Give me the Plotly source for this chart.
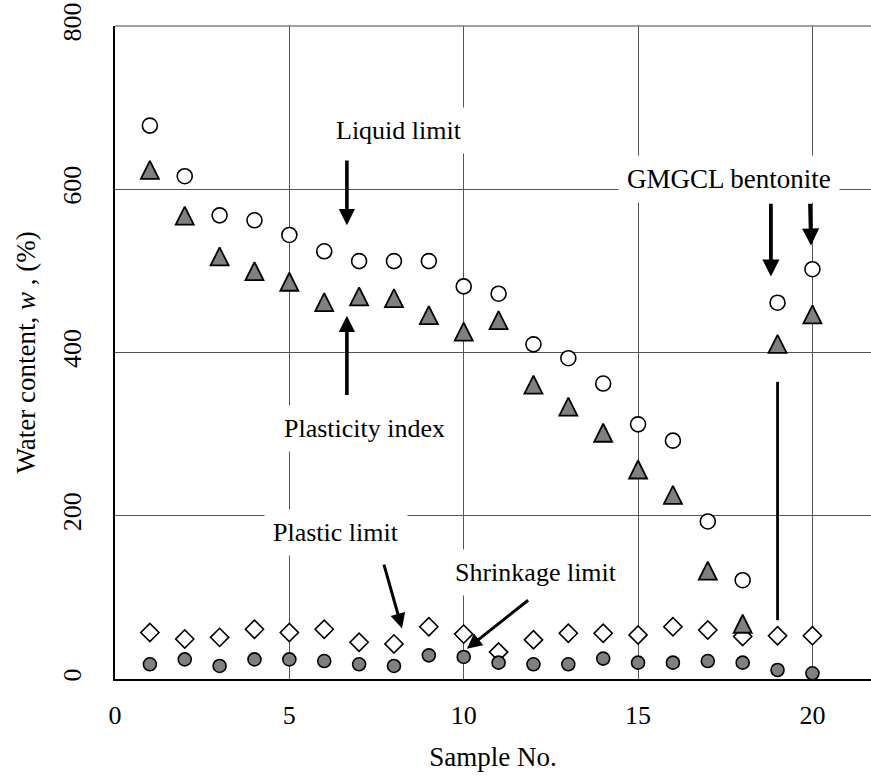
import plotly.graph_objects as go

# Sample numbers and Atterberg-limit water contents (%)
sample_no = [1, 2, 3, 4, 5, 6, 7, 8, 9, 10, 11, 12, 13, 14, 15, 16, 17, 18, 19, 20]
liquid_limit = [678, 616, 568, 562, 544, 524, 512, 512, 512, 481,
                472, 410, 393, 362, 312, 292, 193, 121, 461, 502]
plasticity_index = [620, 564, 514, 496, 483, 458, 465, 463, 442, 422,
                    436, 357, 330, 298, 253, 222, 129, 64, 407, 443]
plastic_limit = [57, 49, 51, 61, 57, 61, 45, 43, 64, 55,
                 33, 48, 56, 56, 54, 64, 60, 52, 53, 53]
shrinkage_limit = [18, 24, 16, 24, 24, 22, 18, 16, 29, 27,
                   20, 18, 18, 25, 20, 20, 22, 20, 11, 7]

x_ticks = [0, 5, 10, 15, 20]
y_ticks = [0, 200, 400, 600, 800]

FONT = "'Liberation Serif', 'Times New Roman', 'DejaVu Serif', serif"
W, H = 871, 778
M_L, M_R, M_T, M_B = 115, 0, 26, 99
Y_MAX = 800
X_MAX = 21.68

# the triangle marker is drawn with its apex on the point; a second y axis
# shifted by two thirds of the marker height puts the triangle's centre there
TRI_SIZE = 18
px_per_unit = (H - M_T - M_B) / Y_MAX
tri_shift = (2 / 3) * TRI_SIZE / px_per_unit

fig = go.Figure()

fig.add_trace(go.Scatter(
    x=sample_no, y=liquid_limit, mode="markers", name="Liquid limit",
    marker=dict(symbol="circle", size=15, color="white",
                line=dict(color="black", width=1.6)),
))
fig.add_trace(go.Scatter(
    x=sample_no, y=plastic_limit, mode="markers", name="Plastic limit",
    marker=dict(symbol="diamond", size=14, color="white",
                line=dict(color="black", width=1.6)),
))
fig.add_trace(go.Scatter(
    x=sample_no, y=plasticity_index, mode="markers", name="Plasticity index",
    yaxis="y2",
    marker=dict(symbol="arrow-up", size=TRI_SIZE, color="#808080",
                line=dict(color="black", width=1.8)),
))
fig.add_trace(go.Scatter(
    x=sample_no, y=shrinkage_limit, mode="markers", name="Shrinkage limit",
    marker=dict(symbol="circle", size=13, color="#808080",
                line=dict(color="black", width=1.6)),
))

# text labels on white boxes (they interrupt the grid lines)
labels = [
    ("Liquid limit", 8.15, 672, 26),
    ("Plasticity index", 7.16, 307, 26),
    ("Plastic limit", 6.34, 180, 26),
    ("Shrinkage limit", 12.08, 130, 26),
    ("GMGCL bentonite", 17.62, 612, 27),
]
annotations = []
for txt, lx, ly, fs in labels:
    annotations.append(dict(
        x=lx, y=ly, xref="x", yref="y", text=txt, showarrow=False,
        font=dict(family=FONT, size=fs, color="black"),
        bgcolor="white", borderpad=8,
    ))

# pointer arrows: (tail x, tail y, tip x, tip y, line width, head size)
arrows = [
    (6.65, 637, 6.65, 556, 3.6, 0.9),
    (6.65, 346, 6.65, 445, 3.6, 0.9),
    (7.70, 142, 8.23, 62, 3.0, 1.0),
    (11.89, 98, 10.09, 37, 3.0, 1.0),
    (18.81, 584, 18.81, 493, 3.8, 0.9),
    (19.93, 584, 19.96, 531, 3.8, 0.9),
]
for tx, ty, hx, hy, aw, asz in arrows:
    annotations.append(dict(
        x=hx, y=hy, ax=tx, ay=ty, xref="x", yref="y", axref="x", ayref="y",
        text="", showarrow=True, arrowhead=2, arrowwidth=aw, arrowsize=asz,
        arrowcolor="black", standoff=0,
    ))

shapes = [
    # leader line down to the sample 19 plastic limit
    dict(type="line", xref="x", yref="y", x0=19, x1=19, y0=364, y1=72,
         line=dict(color="black", width=2.8), layer="above"),
    # top frame line
    dict(type="line", xref="paper", yref="paper", x0=0, x1=1, y0=1, y1=1,
         line=dict(color="#808080", width=1.5), layer="above"),
]

fig.update_layout(
    width=W, height=H,
    margin=dict(l=M_L, r=M_R, t=M_T, b=M_B),
    paper_bgcolor="white", plot_bgcolor="white",
    showlegend=False,
    font=dict(family=FONT, color="black"),
    annotations=annotations,
    shapes=shapes,
    xaxis=dict(
        range=[0, X_MAX], tickvals=x_ticks, ticks="",
        showgrid=True, gridcolor="#555555", gridwidth=1,
        showline=True, linecolor="black", linewidth=1.5,
        zeroline=False,
        tickfont=dict(family=FONT, size=26, color="black"),
        ticklabelstandoff=12,
        title=dict(text="Sample No.", font=dict(family=FONT, size=27, color="black"),
                   standoff=18),
    ),
    yaxis=dict(
        range=[0, Y_MAX], tickvals=y_ticks, ticks="",
        showgrid=True, gridcolor="#555555", gridwidth=1,
        showline=True, linecolor="black", linewidth=1.5,
        zeroline=False, tickangle=-90,
        tickfont=dict(family=FONT, size=26, color="black"),
        ticklabelstandoff=22,
        title=dict(text="Water content, <i>w</i> , (%)",
                   font=dict(family=FONT, size=27, color="black"),
                   standoff=14),
    ),
    yaxis2=dict(
        range=[-tri_shift, Y_MAX - tri_shift], overlaying="y",
        visible=False, showgrid=False, zeroline=False,
    ),
)

fig.write_html("out.html")
